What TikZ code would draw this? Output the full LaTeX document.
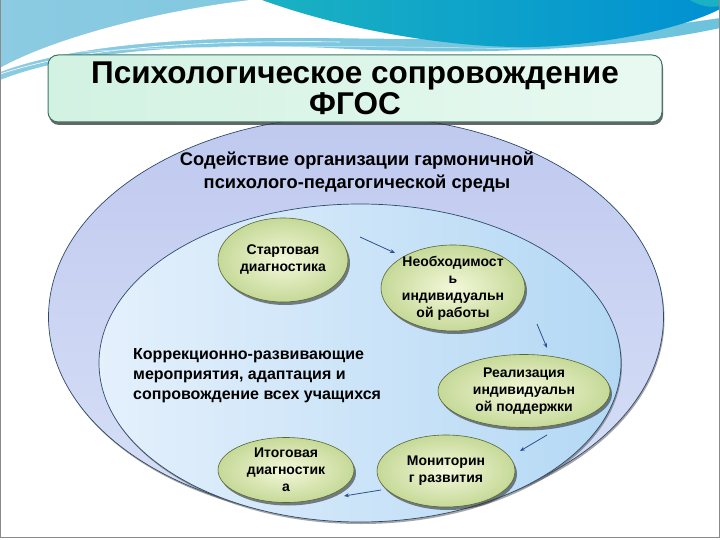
\documentclass[tikz,border=0pt]{standalone}
\usepackage{fontspec}
\setmainfont{Liberation Sans}
\usetikzlibrary{shapes.geometric,shadows,arrows.meta}
\definecolor{frame}{HTML}{8A8A8A}
\definecolor{lb1}{HTML}{8CCBE2}
\definecolor{lb2}{HTML}{6CC3DC}
\definecolor{teal1}{HTML}{1AB2C2}
\definecolor{teal2}{HTML}{0091D2}
\definecolor{titleL}{HTML}{D2F2E2}
\definecolor{titleM}{HTML}{A6E9C9}
\definecolor{titleR}{HTML}{E8F9F1}
\definecolor{titleB}{HTML}{3C7566}
\definecolor{outTop}{HTML}{BFC9EF}
\definecolor{outBot}{HTML}{D8E0F6}
\definecolor{ellB}{HTML}{2E4A6A}
\definecolor{inL}{HTML}{E4F0FC}
\definecolor{inM}{HTML}{B0D7F5}
\definecolor{inR}{HTML}{B4D8F4}
\definecolor{grIn}{HTML}{F3F8DA}
\definecolor{grOut}{HTML}{C6D998}
\definecolor{grB}{HTML}{56672F}
\definecolor{arr}{HTML}{2F4F8F}
\begin{document}
\begin{tikzpicture}[x=1pt,y=-1pt,
  bigell/.style={ellipse, draw=ellB, line width=0.7pt, inner sep=0pt,
    drop shadow={shadow xshift=1pt, shadow yshift=-2pt, opacity=0.5, fill=black!70}},
  stage/.style={ellipse, draw=grB, line width=0.6pt, inner sep=0pt,
    inner color=grIn, outer color=grOut,
    drop shadow={shadow xshift=2pt, shadow yshift=-3pt, opacity=0.6, fill=black!80}},
  stagetext/.style={align=center, font=\fontsize{14}{17}\selectfont\bfseries, text=black},
  flow/.style={draw=arr, line width=0.8pt, -{Stealth[length=5pt,width=4pt]}},
]
\useasboundingbox (0,0) rectangle (720,540);
\fill[white] (0,0) rectangle (720,540);
% top waves
\shade[left color=lb1, right color=lb2]
  (0,0) -- (720,0) -- (720,28) .. controls (620,50) and (470,56) .. (330,48)
  .. controls (190,42) and (70,52) .. (0,80) -- cycle;
\fill[white] (250,0) .. controls (150,12) and (50,40) .. (0,68) -- (0,72)
  .. controls (70,46) and (180,36) .. (330,38) .. controls (470,41) and (600,36) .. (720,18)
  -- (720,0) -- cycle;
\shade[left color=teal1, right color=teal2]
  (262,0) .. controls (350,32) and (470,52) .. (555,46)
  .. controls (640,40) and (700,20) .. (720,9) -- (720,0) -- cycle;
\fill[teal1] (690,0) .. controls (700,6) and (710,8) .. (720,6) -- (720,0) -- cycle;
\draw[white, line width=0.6pt] (0,74) .. controls (80,48) and (190,40) .. (340,42);
\draw[white!60!lb1, line width=0.5pt] (80,52) .. controls (200,44) and (420,46) .. (560,50);
% frame
\draw[frame, line width=0.8pt] (0.5,0) -- (0.5,537.5) -- (719.5,537.5) -- (719.5,0);
% outer ellipse
\node[bigell, minimum width=615pt, minimum height=402pt,
  top color=outTop, bottom color=outBot] (outer) at (356,317) {};
% inner ellipse
\node[bigell, minimum width=522pt, minimum height=318pt,
  left color=inL, middle color=inM, right color=inR] (inner) at (360,363) {};
% title box
\node[rounded corners=10pt, draw=titleB, line width=1pt,
  left color=titleL, middle color=titleM, right color=titleR,
  minimum width=614pt, minimum height=67pt, inner sep=0pt,
  drop shadow={shadow xshift=1pt, shadow yshift=-3pt, opacity=0.75, fill=black!80}]
  (titlebox) at (355,88.5) {};
\node[align=center, font=\fontsize{31.5}{31}\selectfont\bfseries] (title) at (355,88)
  {Психологическое сопровождение\\ФГОС};
% labels
\node[align=center, font=\fontsize{18.3}{23}\selectfont\bfseries] (outerlbl) at (357,172)
  {Содействие организации гармоничной\\психолого-педагогической среды};
\node[align=left, anchor=west, inner sep=0pt, font=\fontsize{16}{20}\selectfont\bfseries]
  (innerlbl) at (133,376)
  {Коррекционно-развивающие\\мероприятия, адаптация и\\сопровождение всех учащихся};
% stages
\node[stage, minimum width=130pt, minimum height=84pt] (s1) at (283,260) {};
\node[stagetext] at (s1) {Стартовая\\диагностика};
\node[stage, minimum width=144pt, minimum height=86pt] (s2) at (453,288) {};
\node[stagetext] at (s2) {Необходимост\\ь\\индивидуальн\\ой работы};
\node[stage, minimum width=172pt, minimum height=73pt] (s3) at (524,391) {};
\node[stagetext] at (s3) {Реализация\\индивидуальн\\ой поддержки};
\node[stage, minimum width=138pt, minimum height=72pt] (s4) at (446,471) {};
\node[stagetext] at (s4) {Мониторин\\г развития};
\node[stage, minimum width=136pt, minimum height=65pt] (s5) at (286,470) {};
\node[stagetext] at (s5) {Итоговая\\диагностик\\а};
% arrows
\coordinate (a1s) at (360,237); \coordinate (a1e) at (395,253);
\coordinate (a2s) at (537,324); \coordinate (a2e) at (547,348);
\coordinate (a3s) at (547,435); \coordinate (a3e) at (520,451);
\coordinate (a4s) at (381,490); \coordinate (a4e) at (344,496);
\draw[flow] (a1s) -- (a1e);
\draw[flow] (a2s) -- (a2e);
\draw[flow] (a3s) -- (a3e);
\draw[flow] (a4s) -- (a4e);
\end{tikzpicture}
\end{document}
